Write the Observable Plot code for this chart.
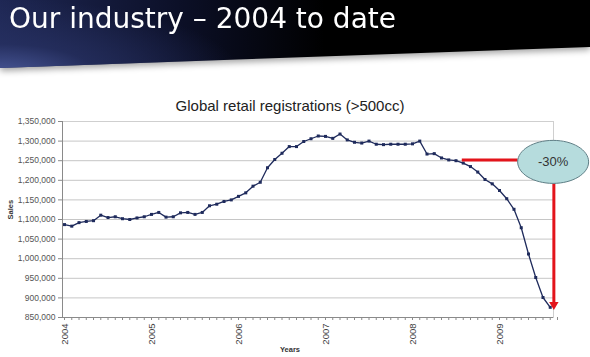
<!DOCTYPE html>
<html>
<head>
<meta charset="utf-8">
<script src="https://cdn.jsdelivr.net/npm/d3@7"></script>
<script src="https://cdn.jsdelivr.net/npm/@observablehq/plot@0.6"></script>
<style>
  html, body { margin: 0; padding: 0; background: #fff; }
  #wrap { position: relative; width: 590px; height: 357px; overflow: hidden; background: #fff; }
  #chart { position: absolute; left: 0; top: 0; }
  #banner { position: absolute; left: 0; top: 0; width: 590px; height: 74px; filter: drop-shadow(0 3px 3px rgba(0,0,0,0.35)); }
  #bannerFill { width: 590px; height: 74px;
    clip-path: polygon(0 0, 590px 0, 590px 47px, 0 68px);
    background:
      radial-gradient(ellipse 240px 75px at 0% 100%, rgba(75,90,155,0.95) 0%, rgba(40,50,100,0.7) 40%, rgba(0,0,0,0) 100%),
      linear-gradient(90deg, #1e2754 0%, #0c1028 30%, #000 55%, #000 100%);
  }
  #bannerTitle { position: absolute; left: 9px; top: 5px; font-family: "DejaVu Sans", Verdana, sans-serif; font-size: 28px; line-height: 28px; color: #fff; white-space: nowrap; }
</style>
</head>
<body>
<div id="wrap">
  <div id="chart"></div>
  <div id="banner"><div id="bannerFill"></div><div id="bannerTitle">Our industry – 2004 to date</div></div>
</div>
<script>
// ---- Data (monthly, Jan 2004 onward) ----
const sales2004 = [1087000, 1083000, 1092000, 1095000, 1097000, 1111000, 1105000, 1107000, 1102000, 1100000, 1104000, 1107000];
const sales2005 = [1113000, 1118000, 1106000, 1107000, 1117000, 1118000, 1113000, 1118000, 1135000, 1139000, 1146000, 1150000];
const sales2006 = [1159000, 1168000, 1185000, 1195000, 1232000, 1253000, 1269000, 1286000, 1286000, 1299000, 1306000, 1313000];
const sales2007 = [1312000, 1307000, 1318000, 1303000, 1297000, 1295000, 1300000, 1292000, 1291000, 1292000, 1292000, 1292000];
const sales2008 = [1293000, 1300000, 1267000, 1268000, 1257000, 1252000, 1250000, 1244000, 1235000, 1221000, 1202000, 1191000];
const sales2009 = [1174000, 1153000, 1126000, 1079000, 1012000, 952000, 901000, 876000];

const yearLabels = ["2004", "2005", "2006", "2007", "2008", "2009"];
const yTicks = [850000, 900000, 950000, 1000000, 1050000, 1100000, 1150000, 1200000, 1250000, 1300000, 1350000];

const chartTitle = "Global retail registrations (>500cc)";
const yTitle = "Sales";
const xTitle = "Years";

// callout annotation (data coordinates: month index, sales)
const calloutText = "-30%";
const calloutCenter = {i: 67.4, v: 1247000};
const calloutLine = {i1: 54.8, i2: 62.5, v: 1252000};
const calloutArrow = {i: 67.5, v1: 1192000, v2: 880000, tip: 870000};

// ---- Build table ----
const sales = [...sales2004, ...sales2005, ...sales2006, ...sales2007, ...sales2008, ...sales2009];
const data = sales.map((v, i) => ({i, v}));
const xDomain = [-0.28, 67.45];
const monthTicks = d3.range(0, 69);
const yearTicks = yearLabels.map((d, k) => k * 12);

// ellipse symbol for the callout
const ellipseSymbol = {
  draw(ctx, size) {
    const r = Math.sqrt(size / Math.PI);
    const rx = r * 1.65, ry = r, k = 0.5523;
    ctx.moveTo(rx, 0);
    ctx.bezierCurveTo(rx, ry * k, rx * k, ry, 0, ry);
    ctx.bezierCurveTo(-rx * k, ry, -rx, ry * k, -rx, 0);
    ctx.bezierCurveTo(-rx, -ry * k, -rx * k, -ry, 0, -ry);
    ctx.bezierCurveTo(rx * k, -ry, rx, -ry * k, rx, 0);
    ctx.closePath();
  }
};

const red = "#e3141b";
const navy = "#1f2b5c";

const plot = Plot.plot({
  width: 590,
  height: 357,
  marginLeft: 62,
  marginRight: 37,
  marginTop: 121,
  marginBottom: 40,
  style: {fontFamily: "'Liberation Sans', Arial, sans-serif", fontSize: "9px", color: "#333", background: "#fff"},
  x: {type: "linear", domain: xDomain},
  y: {domain: [850000, 1350000]},
  marks: [
    Plot.ruleY(yTicks.filter(d => d > 850000), {stroke: "#c6c6c6", strokeWidth: 1}),
    Plot.frame({stroke: "#cfcfcf"}),
    Plot.axisY({ticks: yTicks, tickFormat: d3.format(","), tickSize: 4, tickPadding: 3, stroke: "#8a8a8a", fill: "#555", fontSize: 8.5, label: null}),
    Plot.axisX({ticks: monthTicks, tickFormat: () => "", tickSize: 3, stroke: "#8a8a8a", label: null}),
    Plot.axisX({ticks: yearTicks, tickFormat: d => yearLabels[d / 12], tickSize: 0, tickPadding: 6, tickRotate: -90, fill: "#444", fontSize: 9.5, label: null}),
    Plot.ruleX([xDomain[0]], {stroke: "#8a8a8a"}),
    Plot.ruleY([850000], {stroke: "#8a8a8a"}),
    Plot.line(data, {x: "i", y: "v", stroke: navy, strokeWidth: 1.3}),
    Plot.dot(data, {x: "i", y: "v", symbol: "square", r: 1.7, fill: navy, stroke: "none"}),
    // callout
    Plot.link([calloutLine], {x1: "i1", x2: "i2", y1: "v", y2: "v", stroke: red, strokeWidth: 3}),
    Plot.link([calloutArrow], {x1: "i", x2: "i", y1: "v1", y2: "v2", stroke: red, strokeWidth: 3}),
    Plot.dot([calloutArrow], {x: "i", y: "tip", symbol: "triangle", rotate: 180, r: 3.5, dy: -5, fill: red, stroke: "none"}),
    Plot.dot([calloutCenter], {x: "i", y: "v", symbol: ellipseSymbol, r: 21.5, fill: "#b6dcdd", stroke: "#5f7f86", strokeWidth: 1}),
    Plot.text([calloutCenter], {x: "i", y: "v", text: () => calloutText, fontSize: 13, fill: "#333"}),
    // titles
    Plot.text([chartTitle], {text: d => d, frameAnchor: "top", dx: -18, dy: -21, fontSize: 15, fill: "#222"}),
    Plot.text([yTitle], {text: d => d, frameAnchor: "left", dx: -52, rotate: -90, fontSize: 7.5, fontWeight: "bold", fill: "#333"}),
    Plot.text([xTitle], {text: d => d, frameAnchor: "bottom", dy: 34, fontSize: 7.5, fontWeight: "bold", fill: "#333", dx: -18})
  ]
});
document.getElementById("chart").appendChild(plot);
</script>
</body>
</html>
